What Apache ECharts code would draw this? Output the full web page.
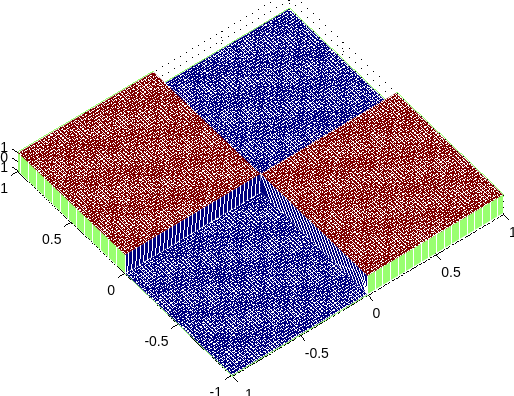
<!DOCTYPE html>
<html><head><meta charset="utf-8">
<style>html,body{margin:0;padding:0;background:#fff}#c{width:514px;height:396px}</style>
<script src="https://cdn.jsdelivr.net/npm/echarts@6/dist/echarts.min.js"></script>
</head><body><div id="c"></div>
<script>
// --- data ---
const xEdges = [-1, 0, 1];
const yEdges = [-1, 0, 1];
const zLevels = [[-1, 1], [1, -1]];       // rows: y cell, cols: x cell
const xTicks = [-1, -0.5, 0, 0.5, 1];
const yTicks = [-1, -0.5, 0, 0.5, 1];
const zTicks = [-1, 0, 1];
const xTickLabels = ['1', '-0.5', '0', '0.5', '1'];
const yTickLabels = ['-1', '-0.5', '0', '0.5', '1'];
const zTickLabels = ['1', '0', '1'];
const meshCells = 105;
// --- view / style ---
const RASTER = 1.72;
const view = { o: [260.5, 183], ex: [135.5, -81], ey: [-107, -102], ez: [0, -9] };
const colors = { low: '#000080', high: '#800000', wall: '#99ff70', mesh: '#ffffff', ink: '#000000' };
const xLabelDx = [13, 5, 5, 6, 6];
const wallStride = { y: 4, x: 3 };
const slopeStripes = { a: 34, b: 26 };
const slopeSkew = { a: 0.01, b: 0.1 };
function project(x, y, z) {
  return [view.o[0] + x * view.ex[0] + y * view.ey[0] + z * view.ez[0],
          view.o[1] + x * view.ex[1] + y * view.ey[1] + z * view.ez[1]];
}
function rasterize(segments, S, step) {
  const seen = new Set(), out = [];
  step = step || 1;
  for (const [a, b] of segments) {
    const ax = a[0] * S, ay = a[1] * S, dx = b[0] * S - ax, dy = b[1] * S - ay;
    const n = Math.max(1, Math.ceil(Math.max(Math.abs(dx), Math.abs(dy))));
    for (let k = 0; k <= n; k += step) {
      const vx = Math.floor(ax + dx * k / n), vy = Math.floor(ay + dy * k / n);
      const i = Math.ceil(vx / S), j = Math.ceil(vy / S);
      if (Math.floor(i * S) !== vx || Math.floor(j * S) !== vy) continue;
      const key = i * 1000 + j;
      if (!seen.has(key)) { seen.add(key); out.push(i, j); }
    }
  }
  return out;
}
// pixels of a flat mesh cell: sampled coarsely so the fine mesh aliases as in the source bitmap
function meshPixels(O, A, B, x0, x1, y0, y1) {
  const ax = A[0] - O[0], ay = A[1] - O[1], bx = B[0] - O[0], by = B[1] - O[1], det = ax * by - ay * bx;
  const ux = by / det, uy = -bx / det, vx = -ay / det, vy = ax / det;
  const cells = meshCells / 2, S = RASTER, out = [];
  const corners = [[x0, y0], [x1, y0], [x1, y1], [x0, y1]].map(([x, y]) => [O[0] + x * ax + y * bx, O[1] + x * ay + y * by]);
  const xs = corners.map(c => c[0]), ys = corners.map(c => c[1]);
  const near = v => Math.abs(v - Math.round(v));
  for (let j = Math.floor(Math.min(...ys)); j <= Math.ceil(Math.max(...ys)); j++) {
    for (let i = Math.floor(Math.min(...xs)); i <= Math.ceil(Math.max(...xs)); i++) {
      const gx = (Math.floor(i * S) + 0.5) / S, gy = (Math.floor(j * S) + 0.5) / S;
      const cx = i + 0.5 - O[0], cy = j + 0.5 - O[1];
      const ex = cx * ux + cy * uy, ey = cx * vx + cy * vy;
      if (ex < x0 || ex > x1 || ey < y0 || ey > y1) continue;
      const px = gx - O[0], py = gy - O[1];
      const x = px * ux + py * uy, y = px * vx + py * vy;
      const hu = near(x * cells) / (Math.abs(uy) * cells / S) < 0.5;
      const hv = near(y * cells) / (Math.abs(vy) * cells / S) < 0.5;
      if (hu || hv) out.push(i, j);
    }
  }
  return out;
}
echarts.graphic.registerShape('pixelCloud', echarts.graphic.extendShape({
  shape: { pixels: [] },
  buildPath(ctx, s) { const p = s.pixels; for (let i = 0; i < p.length; i += 2) ctx.rect(p[i], p[i + 1], 1, 1); }
}));
function steps(a, b, n) {
  const r = [];
  n = n || Math.round((b - a) * meshCells / 2);
  for (let i = 0; i <= n; i++) r.push(a + (b - a) * i / n);
  return r;
}
const faces = [];
const lvl = (ix, iy) => zLevels[iy][ix];
faces.push({ kind: 'grid' }, { kind: 'axis' });
[[1, 1], [0, 1], [1, 0], [0, 0]].forEach(([ix, iy]) => faces.push({ kind: 'cell', ix, iy }));
faces.push({ kind: 'wallY' }, { kind: 'wallX' }, { kind: 'slopeA' }, { kind: 'slopeB' }, { kind: 'labels' });

function renderItem(params, api) {
  const f = faces[params.dataIndex];
  const P = (x, y, z) => api.coord(project(x, y, z));
  const kids = [];
  const poly = (pts, fill) => kids.push({ type: 'polygon', silent: true, shape: { points: pts }, style: { fill } });
  const pixels = (arr, fill) => kids.push({ type: 'pixelCloud', silent: true, shape: { pixels: arr }, style: { fill } });
  const cloud = (segs, fill, S, step) => pixels(rasterize(segs, S, step), fill);
  const shift = (p, dx, dy) => [p[0] + dx, p[1] + dy];
  if (f.kind === 'grid') {
    const segs = [];
    zTicks.forEach(z => { segs.push([P(-1, 1, z), P(1, 1, z)], [P(1, 1, z), P(1, -1, z)]); });
    xTicks.forEach(x => segs.push([P(x, 1, -1), P(x, 1, 1)]));
    yTicks.forEach(y => segs.push([P(1, y, -1), P(1, y, 1)]));
    cloud(segs, colors.ink, 1, 6);
  } else if (f.kind === 'axis') {
    const segs = [[shift(P(-1, 1, -1), 0, 1), shift(P(-1, -1, -1), 0, 1)], [shift(P(-1, -1, -1), 0, 1), shift(P(1, -1, -1), 0, 1)],
      [P(-1, 1, -1), P(-1, 1, 1)]];
    cloud(segs, colors.ink, 1.37);
    const ticks = [];
    yTicks.forEach(y => { const p = P(-1, y, -1); ticks.push([p, shift(p, -7, 4)]); });
    xTicks.forEach(x => { const p = P(x, -1, -1); ticks.push([p, shift(p, 5, 6)]); });
    zTicks.forEach(z => { const p = P(-1, 1, z); ticks.push([p, shift(p, -6, -4)]); });
    cloud(ticks, colors.ink, 1);
  } else if (f.kind === 'cell') {
    const x0 = xEdges[f.ix], x1 = xEdges[f.ix + 1], y0 = yEdges[f.iy], y1 = yEdges[f.iy + 1], z = lvl(f.ix, f.iy);
    const outline = [];
    if (x1 === 1) outline.push([shift(P(1, y0, z), 0, -1), shift(P(1, y1, z), 0, -1)]);
    if (y1 === 1) outline.push([shift(P(x0, 1, z), 0, -1), shift(P(x1, 1, z), 0, -1)]);
    if (x0 === -1) outline.push([shift(P(-1, y0, z), 0, 1), shift(P(-1, y1, z), 0, 1)]);
    if (y0 === -1) outline.push([shift(P(x0, -1, z), 0, 1), shift(P(x1, -1, z), 0, 1)]);
    cloud(outline, colors.wall, 1);
    poly([P(x0, y0, z), P(x1, y0, z), P(x1, y1, z), P(x0, y1, z)], z > 0 ? colors.high : colors.low);
    pixels(meshPixels(P(0, 0, z), P(1, 0, z), P(0, 1, z), x0, x1, y0, y1), colors.mesh);
  } else if (f.kind === 'wallY') {
    poly([P(-1, 0, 1), P(-1, 1, 1), P(-1, 1, -1), P(-1, 0, -1)], colors.wall);
    cloud(steps(0, 1).filter((_, i) => i % wallStride.y === 0).map(y => [P(-1, y, 1), P(-1, y, -1)]), colors.mesh, 1);
  } else if (f.kind === 'wallX') {
    poly([P(0, -1, 1), P(1, -1, 1), P(1, -1, -1), P(0, -1, -1)], colors.wall);
    cloud(steps(0, 1).filter((_, i) => i % wallStride.x === 0).map(x => [P(x, -1, 1), P(x, -1, -1)]), colors.mesh, 1);
  } else if (f.kind === 'slopeA') {
    poly([P(-1, 0, 1), P(0, 0, 1), P(0, 0, -1), P(-1, 0, -1)], colors.low);
    cloud(steps(-1, 0, slopeStripes.a).map(x => [P(x, 0, 1), P(Math.max(-1, x - slopeSkew.a), 0, -1)]), colors.mesh, 1);
  } else if (f.kind === 'slopeB') {
    poly([P(0, -1, 1), P(0, 0, 1), P(0, 0, -1), P(0, -1, -1)], colors.low);
    cloud(steps(-1, 0, slopeStripes.b).map(y => [P(0, y, 1), P(0, Math.max(-1, y - slopeSkew.b), -1)]), colors.mesh, 1);
  } else if (f.kind === 'labels') {
    const text = (s, p, align) => kids.push({ type: 'text', silent: true, style: { text: s, x: p[0], y: p[1], align, verticalAlign: 'middle', fill: colors.ink, font: '14px "Liberation Sans"' } });
    yTicks.forEach((y, i) => text(yTickLabels[i], shift(P(-1, y, -1), -10, 18), 'right'));
    xTicks.forEach((x, i) => text(xTickLabels[i], shift(P(x, -1, -1), xLabelDx[i], 20), 'left'));
    const zy = [168, 158, 148];
    zTicks.forEach((z, i) => text(zTickLabels[i], [8, api.coord([0, zy[i]])[1]], 'right'));
  }
  return { type: 'group', children: kids };
}
const chart = echarts.init(document.getElementById('c'), null, { renderer: 'canvas', devicePixelRatio: 1 });
chart.setOption({
  animation: false, backgroundColor: '#fff',
  grid: { left: 0, right: 0, top: 0, bottom: 0 },
  xAxis: { type: 'value', min: 0, max: 514, show: false },
  yAxis: { type: 'value', min: 0, max: 396, inverse: true, show: false },
  series: [{ type: 'custom', coordinateSystem: 'cartesian2d', clip: false, silent: true, renderItem, data: faces.map((f, i) => [i]), encode: { x: 0, y: 0 } }]
});
</script></body></html>
